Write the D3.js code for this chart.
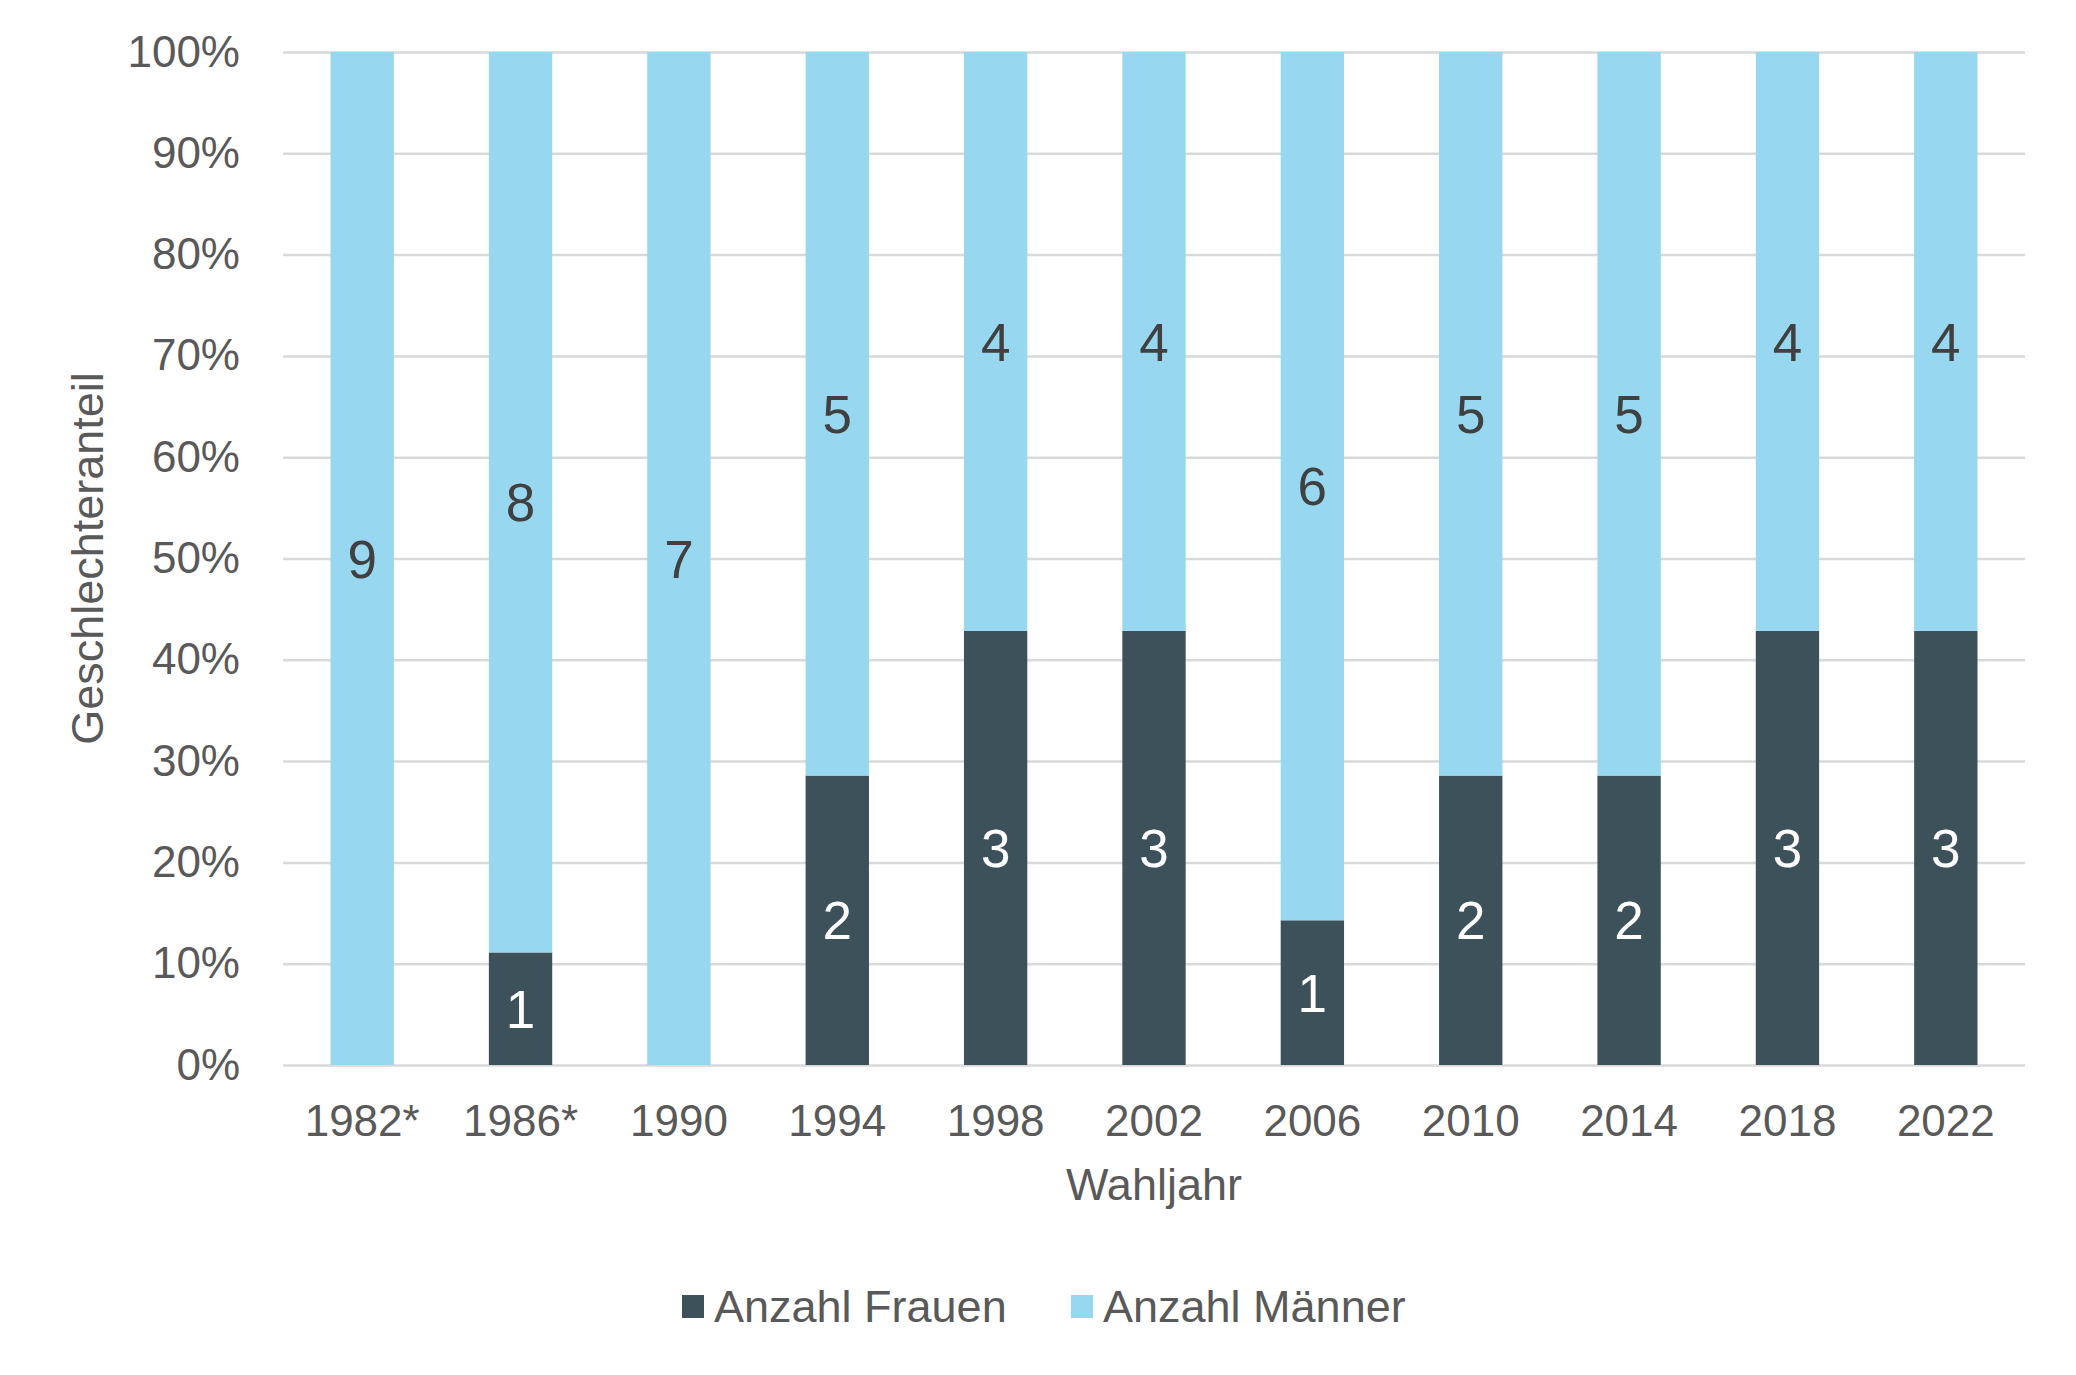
<!DOCTYPE html>
<html>
<head>
<meta charset="utf-8">
<script src="https://cdn.jsdelivr.net/npm/d3@7"></script>
<style>
  html, body { margin: 0; padding: 0; background: #fff; }
  text { font-family: "Liberation Sans", Arial, sans-serif; }
</style>
</head>
<body>
<svg id="chart"></svg>
<script>
// Wahljahre und Anzahl Personen je Geschlecht
var years = ["1982*", "1986*", "1990", "1994", "1998", "2002", "2006", "2010", "2014", "2018", "2022"];
var frauen = [0, 1, 0, 2, 3, 3, 1, 2, 2, 3, 3];
var maenner = [9, 8, 7, 5, 4, 4, 6, 5, 5, 4, 4];
var seriesNames = ["Anzahl Frauen", "Anzahl Männer"];
var yTicks = [0, 0.1, 0.2, 0.3, 0.4, 0.5, 0.6, 0.7, 0.8, 0.9, 1];

var width = 2076,
    height = 1375;
var margin = {top: 52, right: 51, bottom: 310, left: 283};
var innerW = width - margin.left - margin.right,
    innerH = height - margin.top - margin.bottom;

var colours = ["#3d515b", "#97d7ef"];
var labelColours = ["#ffffff", "#404040"];
var textGrey = "#595959";

var svg = d3.select("#chart")
  .attr("width", width)
  .attr("height", height);

var g = svg.append("g")
  .attr("transform", "translate(" + margin.left + "," + margin.top + ")");

// table for the stack layout
var rows = years.map(function (y, i) {
  return {year: y, f: frauen[i], m: maenner[i]};
});

var stack = d3.stack()
  .keys(["f", "m"])
  .offset(d3.stackOffsetExpand);
var layers = stack(rows);

var x = d3.scaleBand()
  .domain(years)
  .range([0, innerW])
  .paddingInner(0.6)
  .paddingOuter(0.3);

var y = d3.scaleLinear()
  .domain([0, 1])
  .range([innerH, 0]);

// gridlines
g.append("g")
  .attr("class", "grid")
  .call(d3.axisLeft(y).tickValues(yTicks).tickSize(-innerW).tickFormat(""))
  .call(function (s) {
    s.select(".domain").remove();
    s.selectAll("line").attr("stroke", "#d9d9d9").attr("stroke-width", 2.5);
  });

// y axis labels
g.append("g")
  .call(d3.axisLeft(y).tickValues(yTicks).tickSize(0).tickPadding(43).tickFormat(d3.format(".0%")))
  .call(function (s) {
    s.select(".domain").remove();
    s.selectAll("text")
      .attr("fill", textGrey)
      .style("font-size", "44px");
  });

// bars
var layer = g.selectAll(".layer")
  .data(layers)
  .enter().append("g")
  .attr("class", "layer")
  .attr("fill", function (d, i) { return colours[i]; });

layer.selectAll("rect")
  .data(function (d) { return d; })
  .enter().append("rect")
  .attr("x", function (d) { return x(d.data.year); })
  .attr("y", function (d) { return y(d[1]); })
  .attr("width", x.bandwidth())
  .attr("height", function (d) { return y(d[0]) - y(d[1]); });

// data labels (counts)
layers.forEach(function (L, li) {
  g.append("g").selectAll("text")
    .data(L.filter(function (d) { return d.data[L.key] > 0; }))
    .enter().append("text")
    .attr("x", function (d) { return x(d.data.year) + x.bandwidth() / 2; })
    .attr("y", function (d) { return (y(d[0]) + y(d[1])) / 2; })
    .attr("dy", "0.36em")
    .attr("text-anchor", "middle")
    .attr("fill", labelColours[li])
    .style("font-size", "53px")
    .text(function (d) { return d.data[L.key]; });
});

// x axis labels
g.append("g")
  .attr("transform", "translate(0," + innerH + ")")
  .call(d3.axisBottom(x).tickSize(0))
  .call(function (s) {
    s.select(".domain").remove();
    s.selectAll("text")
      .attr("y", 71)
      .attr("dy", null)
      .attr("fill", textGrey)
      .style("font-size", "44px");
  });

// axis titles
svg.append("text")
  .attr("transform", "translate(103," + (margin.top + innerH / 2) + ") rotate(-90)")
  .attr("text-anchor", "middle")
  .attr("fill", textGrey)
  .style("font-size", "45px")
  .text("Geschlechteranteil");

svg.append("text")
  .attr("x", margin.left + innerW / 2)
  .attr("y", 1200)
  .attr("text-anchor", "middle")
  .attr("fill", textGrey)
  .style("font-size", "45px")
  .text("Wahljahr");

// legend
var legendX = [682, 1071];
var legend = svg.append("g").selectAll("g")
  .data(seriesNames)
  .enter().append("g")
  .attr("transform", function (d, i) { return "translate(" + legendX[i] + ",1295)"; });

legend.append("rect")
  .attr("width", 22)
  .attr("height", 23)
  .attr("fill", function (d, i) { return colours[i]; });

legend.append("text")
  .attr("x", 32)
  .attr("y", 27)
  .attr("fill", textGrey)
  .style("font-size", "45px")
  .text(function (d) { return d; });
</script>
</body>
</html>
